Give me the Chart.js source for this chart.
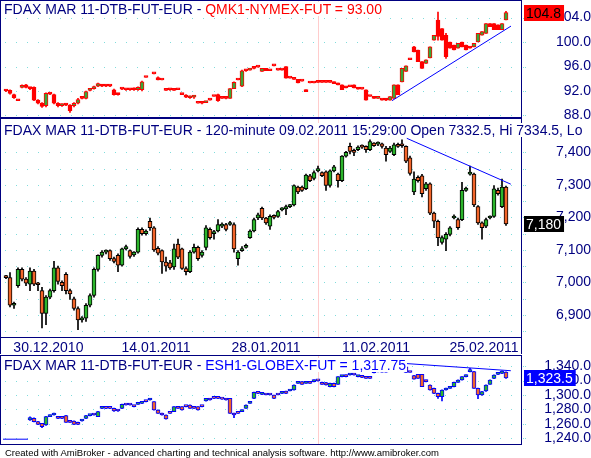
<!DOCTYPE html>
<html>
<head>
<meta charset="utf-8">
<script src="https://cdn.jsdelivr.net/npm/chart.js@4.4.1/dist/chart.umd.min.js"></script>
<style>
body{margin:0;background:#fff;width:591px;height:458px;overflow:hidden;position:relative;font-family:"Liberation Sans",Arial,sans-serif}
canvas{position:absolute;left:0}
.title{position:absolute;left:4px;font-size:14px;line-height:14px;height:14px;color:#000080;background:#fff;white-space:nowrap;padding-right:1px}
#foot{position:absolute;left:5px;top:448px;font-size:9.5px;line-height:9px;color:#000;white-space:nowrap}
</style>
</head>
<body>
<canvas id="c1" width="591" height="124" style="top:0"></canvas>
<canvas id="c2" width="591" height="236" style="top:118px"></canvas>
<canvas id="c3" width="591" height="90" style="top:355px"></canvas>
<div class="title" style="top:2px">FDAX MAR 11-DTB-FUT-EUR - <span style="color:#ff0000">QMK1-NYMEX-FUT = 93.00</span></div>
<div class="title" style="top:123px">FDAX MAR 11-DTB-FUT-EUR - 120-minute 09.02.2011 15:29:00 Open 7332.5, Hi 7334.5, Lo</div>
<div class="title" style="top:358px">FDAX MAR 11-DTB-FUT-EUR - <span style="color:#0000ff">ESH1-GLOBEX-FUT = 1,317.75</span></div>
<div id="foot">Created with AmiBroker - advanced charting and technical analysis software. http://www.amibroker.com</div>
<script>
// три панели: нефть, FDAX, ES

// FDAX 120-minute
const daxOpen = [
7020,7015,6930,6990,7040,7010,6995,7035,6995,6975,
6905,6955,6975,7045,7000,7025,6975,6950,6920,6885,
6890,6930,6960,7040,7083,7093,7098,7073,7083,7053,
7103,7098,7085,7093,7163,7150,7188,7168,7105,7098,
7063,7060,7048,7118,7103,7043,7033,7093,7108,7083,
7108,7163,7150,7158,7173,7178,7178,7178,7073,7098,
7108,7138,7158,7198,7228,7198,7173,7203,7203,7223,
7226,7233,7238,7293,7293,7288,7328,7320,7343,7338,
7340,7298,7343,7333,7313,7388,7418,7406,7408,7420,
7418,7408,7428,7425,7426,7413,7403,7393,7423,7425,
7418,7383,7278,7323,7328,7288,7303,7213,7188,7123,
7133,7148,7198,7193,7193,7283,7333,7333,7233,7183,
7173,7198,7203,7283,7233,7293]
const daxClose = [
7015,6930,6935,7040,7010,6998,7035,6995,6993,6905,
6955,6975,7045,7003,6990,6975,6965,6920,6885,6890,
6930,6960,7040,7083,7093,7098,7073,7065,7053,7103,
7110,7080,7093,7163,7150,7158,7168,7100,7090,7063,
7050,7045,7103,7078,7043,7033,7093,7108,7073,7093,
7168,7138,7153,7178,7178,7163,7183,7103,7093,7103,
7113,7158,7193,7208,7198,7183,7203,7200,7218,7226,
7233,7238,7298,7278,7283,7330,7313,7338,7350,7328,
7298,7343,7355,7313,7388,7400,7403,7400,7416,7416,
7408,7433,7420,7428,7418,7393,7413,7423,7418,7420,
7373,7335,7318,7313,7273,7303,7213,7188,7138,7138,
7148,7168,7203,7168,7283,7290,7338,7238,7183,7168,
7193,7203,7288,7273,7293,7180]
const daxHigh = [
7022,7030,6940,7045,7045,7015,7045,7040,7000,6985,
6960,6980,7065,7050,7005,7030,6980,6955,6925,6895,
6935,6965,7045,7085,7098,7100,7100,7078,7088,7106,
7115,7100,7095,7168,7168,7162,7198,7172,7110,7100,
7078,7068,7118,7133,7106,7048,7098,7118,7112,7098,
7175,7168,7160,7193,7183,7182,7188,7183,7098,7110,
7118,7162,7198,7213,7232,7200,7208,7208,7222,7230,
7238,7240,7300,7296,7296,7333,7332,7343,7358,7340,
7343,7346,7360,7336,7390,7403,7428,7410,7420,7423,
7420,7438,7430,7432,7428,7418,7418,7428,7428,7438,
7420,7388,7340,7328,7332,7308,7306,7216,7192,7143,
7153,7172,7208,7198,7308,7293,7358,7336,7236,7186,
7198,7205,7298,7290,7318,7296]
const daxLow = [
7012,6925,6920,6985,7005,6990,6975,6990,6975,6860,
6870,6950,6970,6995,6975,6965,6948,6915,6855,6878,
6880,6925,6955,7035,7078,7088,7068,7060,7033,7050,
7100,7075,7080,7090,7145,7145,7160,7095,7085,7028,
7035,7040,7040,7073,7040,7023,7030,7090,7068,7078,
7100,7133,7133,7155,7168,7158,7175,7093,7053,7095,
7105,7135,7155,7193,7193,7178,7163,7195,7200,7220,
7208,7230,7235,7273,7280,7285,7310,7315,7340,7325,
7283,7293,7340,7293,7310,7385,7395,7390,7405,7412,
7400,7405,7418,7420,7413,7373,7400,7390,7415,7415,
7368,7330,7270,7308,7263,7283,7208,7168,7113,7118,
7098,7143,7195,7163,7190,7280,7330,7233,7178,7133,
7168,7195,7200,7268,7230,7175]

// QMK1 crude
const oilOpen = [
92.1,92.1,91.4,90.4,92.6,93.0,92.6,92.6,90.5,90.0,
89.6,91.6,91.4,90.0,89.6,89.8,89.7,89.6,90.0,90.8,
90.8,92.1,92.4,92.8,93.0,92.9,92.8,92.2,91.4,92.3,
92.3,92.2,92.4,92.2,92.2,94.2,null,94.8,94.2,93.8,
92.1,92.2,92.2,92.2,91.4,91.3,90.9,91.0,90.0,90.0,
90.1,90.5,91.1,91.4,90.8,90.8,90.8,92.4,93.8,92.8,
95.4,95.4,95.7,95.9,95.2,95.7,95.3,96.1,95.4,95.4,
96.0,94.1,93.9,93.9,93.6,92.2,93.3,93.3,93.4,93.4,
93.4,93.4,93.5,93.3,93.0,92.7,92.7,93.0,92.6,92.3,
92.2,91.1,91.0,90.8,90.7,90.8,90.5,90.8,93.0,93.5,
95.2,97.1,99.2,98.7,96.8,96.5,97.4,100.3,103.6,102.2,
101.1,100.0,99.5,99.0,100.0,99.5,99.2,99.2,100.0,101.1,
101.4,103.0,103.0,102.8,102.0,103.6]
const oilClose = [
92.0,91.6,90.9,90.4,92.9,92.6,92.4,90.5,90.0,89.5,
91.6,91.5,90.0,89.6,89.8,89.7,88.8,90.0,90.6,90.8,
91.9,92.2,92.7,93.2,92.8,92.8,92.8,91.4,91.4,92.3,
92.2,92.2,92.2,92.6,93.5,94.2,null,94.8,93.8,93.8,
92.1,92.2,92.1,92.2,91.4,91.0,91.2,91.3,90.0,90.0,
90.3,90.5,91.1,90.4,90.8,90.8,92.4,93.4,93.8,95.3,
95.3,95.7,95.7,95.9,95.7,95.3,95.3,96.1,95.4,95.4,
94.1,94.1,93.9,93.3,93.6,91.9,93.3,93.3,93.4,93.4,
93.4,93.4,93.2,93.0,92.2,92.5,92.7,92.5,92.3,92.3,
90.5,91.1,90.8,90.9,90.5,90.5,91.1,93.0,91.4,95.7,
96.1,97.1,98.4,96.8,95.7,97.1,99.2,101.1,100.9,100.3,
97.6,99.0,98.7,99.8,99.2,98.7,99.0,99.8,101.4,101.7,
103.0,102.5,102.0,102.0,103.0,104.8]
const oilHigh = [
92.2,92.2,91.5,90.4,93.0,93.1,92.6,92.7,90.6,90.1,
91.7,91.7,91.5,90.1,89.9,89.9,89.8,90.1,90.8,90.9,
92.0,92.3,92.8,93.3,93.1,93.0,92.9,92.3,91.6,92.4,
92.3,92.3,92.5,92.7,93.6,94.2,null,94.8,94.3,93.8,
92.1,92.3,92.2,92.2,91.4,91.4,91.2,91.3,90.0,90.1,
90.3,90.5,91.1,91.5,90.8,90.9,92.4,93.5,93.8,95.4,
95.4,95.7,95.8,95.9,95.7,95.7,95.3,96.1,95.4,95.5,
96.0,94.1,93.9,93.9,93.6,92.2,93.3,93.3,93.4,93.4,
93.4,93.4,93.5,93.3,93.0,92.7,92.7,93.0,92.6,92.3,
92.2,91.1,91.0,90.9,90.7,90.8,91.1,93.0,93.0,95.7,
96.1,97.1,99.3,98.7,96.8,97.1,99.2,101.1,104.9,102.2,
101.4,100.0,99.5,99.8,100.0,99.5,99.2,99.8,101.4,101.7,
103.0,103.0,103.0,102.8,103.0,105.0]
const oilLow = [
91.9,91.5,90.8,90.4,92.5,92.5,92.2,90.4,89.9,89.3,
89.4,91.4,89.9,89.4,89.5,89.6,88.5,89.4,89.9,90.7,
90.7,92.0,92.3,92.7,92.7,92.7,92.7,91.3,91.3,92.2,
92.1,92.1,92.1,92.1,92.0,94.2,null,94.8,93.8,93.8,
92.1,92.1,92.1,92.2,91.4,90.9,90.8,90.8,90.0,89.9,
90.1,90.5,91.1,90.3,90.8,90.7,90.8,92.4,93.8,92.7,
95.2,95.4,95.6,95.9,95.2,95.3,95.3,96.1,95.4,95.4,
94.1,94.1,93.9,93.3,93.6,91.9,93.3,93.3,93.4,93.4,
93.4,93.4,93.2,93.0,92.2,92.5,92.7,92.5,92.3,92.3,
90.5,91.1,90.8,90.8,90.5,90.4,90.5,90.8,91.4,93.5,
95.2,97.1,98.4,96.8,95.7,96.5,97.4,100.3,100.3,100.3,
97.3,99.0,98.7,99.0,99.2,98.7,99.0,99.2,100.0,101.1,
101.4,102.5,102.0,102.0,102.0,103.6]

// ESH1 e-mini
const esOpen = [
null,null,null,null,null,null,1265.5,1267.8,1263.2,1260.9,
1258.6,1270.1,1272.4,1270.1,1268.7,1271.5,1264.1,1264.1,1262.3,1264.1,
1267.8,1271.5,1272.4,1270.1,1281.6,1281.6,1281.6,1281.6,1279.3,1281.6,
1286.2,1286.2,1285.3,1287.1,1288.5,1290.8,1293.1,1290.8,1279.3,1274.7,
1272.4,1274.7,1277.0,1282.5,1283.9,1283.9,1286.2,1283.9,1283.9,1283.9,
1291.7,1295.4,1295.4,1295.4,1294.2,1295.4,1295.4,1274.7,1274.7,1277.0,
1281.6,1288.5,1295.4,1302.3,1300.9,1300.9,1300.9,1300.0,1300.9,1302.3,
1305.5,1305.5,1306.9,1316.1,1318.4,1316.1,1317.5,1318.4,1319.5,1317.5,
1317.0,1311.5,1316.1,1314.7,1325.3,1327.6,1327.6,1327.6,1325.3,1326.7,
1323.9,1323.9,1330.8,1332.2,1332.2,1331.5,null,null,null,null,
1339.0,1331.0,1326.7,1328.5,1328.5,1320.7,1313.8,1309.2,1302.3,1297.7,
1306.9,1309.2,1311.5,1317.5,1320.7,1325.3,1332.2,1332.2,1309.2,1300.0,
1305.5,1314.7,1323.0,1328.5,1329.9,1331.5]
const esClose = [
null,null,null,null,null,null,1269.0,1263.2,1259.5,1256.3,
1270.1,1272.4,1274.7,1267.8,1267.8,1262.3,1262.3,1259.5,1259.5,1265.5,
1271.5,1272.4,1272.4,1277.0,1282.5,1281.6,1281.6,1277.9,1277.9,1287.1,
1286.2,1286.2,1283.9,1288.5,1289.4,1290.8,1295.4,1279.3,1274.7,1272.4,
1266.9,1274.7,1283.9,1281.6,1279.3,1283.9,1281.6,1281.6,1279.3,1283.9,
1295.4,1293.1,1295.4,1295.4,1294.2,1293.1,1274.7,1272.4,1274.7,1279.3,
1286.2,1290.8,1303.7,1302.3,1302.3,1300.0,1300.0,1295.4,1300.0,1303.7,
1302.3,1306.9,1313.8,1318.4,1314.7,1317.5,1316.1,1320.7,1319.5,1314.7,
1313.8,1316.1,1311.5,1325.3,1326.7,1325.3,1328.5,1327.6,1326.7,1324.4,
1323.0,1323.0,1330.8,1332.2,1331.5,1331.5,null,null,null,null,
1331.0,1331.0,1322.0,1323.0,1311.5,1318.4,1306.9,1302.3,1297.7,1306.9,
1309.2,1311.5,1317.5,1320.7,1325.3,1327.6,1334.5,1309.2,1300.0,1304.6,
1313.8,1320.7,1327.6,1329.9,1333.0,1323.5]
const esHigh = [
null,null,null,null,null,null,1270.0,1268.5,1263.5,1261.0,
1270.5,1272.5,1275.0,1270.5,1269.0,1272.0,1264.5,1264.5,1262.5,1266.0,
1272.0,1272.5,1273.0,1277.5,1283.0,1282.0,1282.0,1282.0,1279.5,1287.5,
1286.5,1286.5,1285.5,1289.0,1289.5,1291.0,1295.5,1291.0,1279.5,1275.0,
1272.5,1275.0,1284.0,1283.0,1284.0,1284.0,1286.5,1284.0,1284.0,1284.0,
1295.5,1295.5,1295.5,1295.5,1294.5,1295.5,1295.5,1275.0,1275.0,1279.5,
1286.5,1291.0,1304.0,1302.5,1302.5,1301.0,1301.0,1300.0,1301.0,1304.0,
1305.5,1307.0,1314.0,1318.5,1318.5,1318.0,1318.0,1321.0,1320.0,1318.0,
1317.5,1316.5,1316.5,1325.5,1327.0,1328.0,1329.0,1328.0,1327.0,1327.0,
1324.0,1324.0,1331.0,1332.5,1332.5,1331.5,null,null,null,null,
1340.0,1331.0,1327.0,1328.5,1328.5,1320.7,1314.0,1309.5,1302.5,1307.0,
1309.5,1312.0,1318.0,1321.0,1325.5,1328.0,1336.8,1332.5,1309.5,1305.0,
1314.0,1321.0,1328.0,1330.5,1333.5,1332.0]
const esLow = [
null,null,null,null,null,null,1265.0,1263.0,1259.0,1255.0,
1258.0,1270.0,1272.0,1267.5,1267.5,1262.0,1262.0,1259.0,1259.0,1264.0,
1267.5,1271.0,1272.0,1270.0,1281.0,1281.0,1281.0,1277.5,1277.5,1281.0,
1286.0,1286.0,1283.5,1287.0,1288.0,1290.5,1293.0,1279.0,1274.5,1272.0,
1266.5,1274.5,1277.0,1281.5,1279.0,1283.5,1281.5,1281.5,1279.0,1283.5,
1291.5,1293.0,1295.0,1295.0,1294.0,1293.0,1274.5,1268.7,1274.5,1277.0,
1281.5,1288.5,1295.0,1302.0,1300.5,1300.0,1300.0,1295.0,1300.0,1302.0,
1302.0,1305.5,1306.5,1316.0,1314.5,1316.0,1316.0,1318.0,1319.0,1314.5,
1313.5,1311.0,1311.0,1314.5,1325.0,1325.0,1327.5,1327.5,1325.0,1324.0,
1323.0,1323.0,1330.5,1332.0,1331.5,1331.5,null,null,null,null,
1331.0,1331.0,1322.0,1323.0,1311.5,1318.0,1306.5,1302.0,1295.4,1291.7,
1306.5,1309.0,1311.0,1317.5,1320.5,1325.0,1332.0,1309.0,1295.0,1299.5,
1305.0,1314.5,1322.5,1328.0,1329.5,1323.0]

// трендовые линии (индекс бара, цена)
const oilTrendX = [96.5, 126.25]
const oilTrendY = [90.42, 102.6]
const daxTrendX = [100.2, 126.2]
const daxTrendY = [7443, 7302]
const esTrendX = [99.25, 126.2]
const esTrendY = [1343.7, 1333.5]
const esStubX = [-0.75, 5.5]
const esStubY = [1239, 1239]

// подписи осей
const oilTicks = [88, 92, 96, 100, 104]
const daxTicks = [6850,6900,6950,7000,7050,7100,7150,7200,7250,7300,7350,7400,7450]
const esTicks = [1240, 1260, 1280, 1300, 1320, 1340]
const dateIdx = [10.6, 37.5, 65, 92.5, 119.5]
const dateLabels = ["30.12.2010", "14.01.2011", "28.01.2011", "11.02.2011", "25.02.2011"]
const pinkIdx = 78

const navy = "#000080"
const gridCol = "#80dcdc"
const fontFam = '"Liberation Sans", Arial, sans-serif'

function pts(xs, ys){
return xs.map((x, i) => ({x: x, y: ys[i]}))
}

function candles(o, c, h, l, up, down, edge, wick){
let body = []
let sticks = []
o.forEach((v, i) => {
if(v == null) return
body.push({x: i, y: [v, c[i]]})
sticks.push({x: i, y: [l[i], h[i]]})
})
return [
{
type: "bar", data: body, order: 1, grouped: false,
barThickness: 4, minBarLength: 2, borderWidth: 1, borderSkipped: false,
borderColor: edge,
backgroundColor: ctx => {
const p = ctx.raw
return p && p.y[1] > p.y[0] ? up : down
}
},
{
type: "bar", data: sticks, order: 2, grouped: false,
barThickness: 1, borderWidth: 0, backgroundColor: wick
}
]
}

function trend(xs, ys){
return {type: "line", data: pts(xs, ys), borderColor: "#0000ff", borderWidth: 1, pointRadius: 0, order: 0}
}

function deco(box, tall){
return {
id: "deco",
beforeDatasetsDraw(chart){
const ctx = chart.ctx
const a = chart.chartArea
const ys = chart.scales.y
ctx.save()
// точечная сетка по тикам оси
ctx.fillStyle = gridCol
ys.ticks.forEach(t => {
const y = Math.round(ys.getPixelForValue(t.value))
if(y < a.top || y >= a.bottom) return
for(let x = a.left + 5; x < a.right - 1; x += 11) ctx.fillRect(x, y, 1, 1)
ctx.fillRect(a.right + 1, y, 1, 1)
ctx.fillRect(a.right + 3, y, 1, 1)
})
const px = Math.round(chart.scales.x.getPixelForValue(pinkIdx)) + 0.5
ctx.strokeStyle = "#ffcccc"
ctx.lineWidth = 1
ctx.beginPath()
ctx.moveTo(px, a.top)
ctx.lineTo(px, a.bottom)
ctx.stroke()
ctx.restore()
},
afterDraw(chart){
const ctx = chart.ctx
const a = chart.chartArea
ctx.save()
ctx.strokeStyle = navy
ctx.lineWidth = 1
ctx.beginPath()
const bottom = tall ? chart.height : a.bottom
ctx.moveTo(a.left + 0.5, a.top)
ctx.lineTo(a.left + 0.5, bottom)
ctx.moveTo(a.right - 0.5, a.top)
ctx.lineTo(a.right - 0.5, bottom)
ctx.moveTo(a.left, a.top + 0.5)
ctx.lineTo(a.right, a.top + 0.5)
ctx.moveTo(a.left, a.bottom - 0.5)
ctx.lineTo(a.right, a.bottom - 0.5)
ctx.stroke()

// последняя цена справа
const y = Math.round(chart.scales.y.getPixelForValue(box.value))
ctx.font = "14px " + fontFam
const w = ctx.measureText(box.text).width
ctx.fillStyle = box.bg
ctx.fillRect(a.right + 2, y - 8, w + 5, 16)
ctx.fillStyle = box.fg
ctx.textBaseline = "middle"
ctx.textAlign = "left"
ctx.fillText(box.text, a.right + 4, y + 1)
ctx.restore()
}
}
}

function hiddenX(){
return {type: "linear", min: -1.5, max: 129, offset: false, display: false}
}

function pane(id, sets, yMin, yMax, yTicks, fmt, pad, bottomPad, xAxis, box, tall){
return new Chart(document.getElementById(id), {
type: "bar",
data: {datasets: sets},
options: {
responsive: false,
animation: false,
devicePixelRatio: 1,
layout: {padding: {left: 0, right: 0, top: 0, bottom: bottomPad}},
plugins: {legend: {display: false}, tooltip: {enabled: false}},
scales: {
x: xAxis,
y: {
type: "linear", position: "right", min: yMin, max: yMax,
afterBuildTicks: s => { s.ticks = yTicks.map(v => ({value: v})) },
afterFit: s => { s.width = 69; s.paddingTop = 0; s.paddingBottom = 0 },
grid: {drawOnChartArea: false, drawTicks: false},
border: {display: false},
ticks: {
color: navy, font: {family: fontFam, size: 14}, padding: pad, crossAlign: "far",
autoSkip: false,
callback: v => fmt(v)
}
}
}
},
plugins: [deco(box, tall)]
})
}

// нефть
pane("c1",
candles(oilOpen, oilClose, oilHigh, oilLow, "#38a838", "#ff0000", "#ff0000", "#ff0000").concat([trend(oilTrendX, oilTrendY)]),
87.59, 106.86, oilTicks, v => v.toFixed(1), 31, 6, hiddenX(),
{value: oilClose[oilClose.length - 1], text: oilClose[oilClose.length - 1].toFixed(1), bg: "#ff0000", fg: "#000"}, false)

// FDAX
const daxX = {
type: "linear", min: -1.5, max: 129, offset: false, position: "bottom",
afterBuildTicks: s => { s.ticks = dateIdx.map(v => ({value: v})) },
afterFit: s => { s.height = 16; s.paddingLeft = 0; s.paddingRight = 0 },
grid: {display: false, offset: false},
border: {display: false},
ticks: {color: navy, font: {family: fontFam, size: 14}, padding: -6, maxRotation: 0, autoSkip: false,
callback: (v, i) => dateLabels[i]}
}
const daxLast = daxClose[daxClose.length - 1]
pane("c2",
candles(daxOpen, daxClose, daxHigh, daxLow, "#2cb52c", "#f2652a", "#000000", "#000000").concat([trend(daxTrendX, daxTrendY)]),
6829.3, 7505.4, daxTicks, v => v % 100 === 0 ? v.toLocaleString("en-US") : "", 31, 0, daxX,
{value: daxLast, text: daxLast.toLocaleString("en-US"), bg: "#000000", fg: "#ffffff"}, true)

// ES
const esLast = esClose[esClose.length - 1]
pane("c3",
candles(esOpen, esClose, esHigh, esLow, "#2cb52c", "#f2652a", "#0000ff", "#0000ff").concat([
trend(esTrendX, esTrendY), trend(esStubX, esStubY)]),
1231.0, 1355.2, esTicks, v => v.toLocaleString("en-US", {minimumFractionDigits: 1}), 19, 0, hiddenX(),
{value: esLast, text: esLast.toLocaleString("en-US", {minimumFractionDigits: 1}), bg: "#0000ff", fg: "#ffffff"}, false)
</script>
</body>
</html>
